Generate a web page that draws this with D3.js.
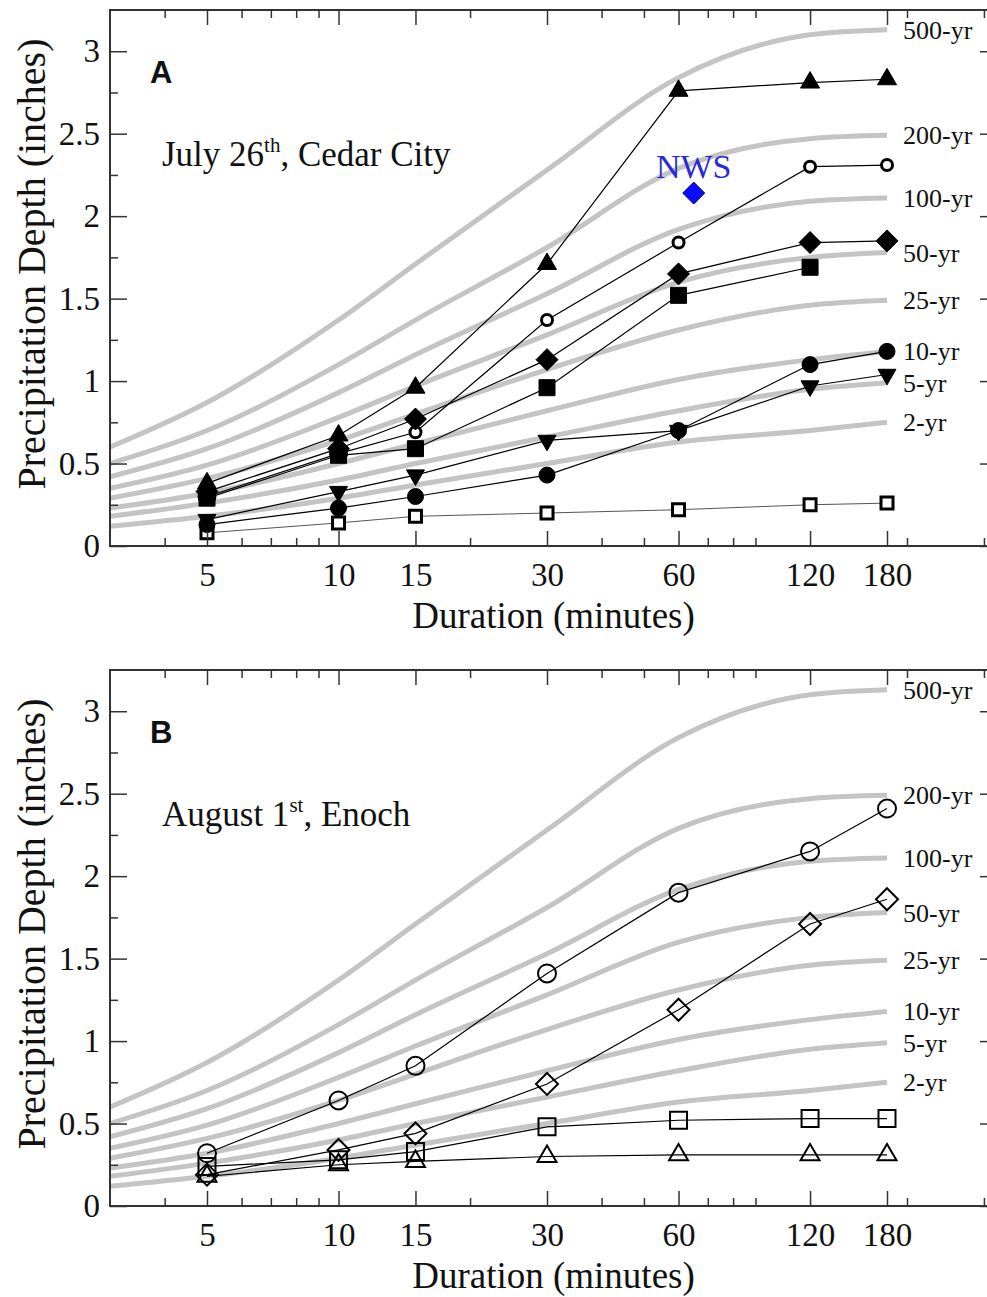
<!DOCTYPE html>
<html>
<head>
<meta charset="utf-8">
<script src="https://cdn.jsdelivr.net/npm/d3@7"></script>
<style>
  body { margin: 0; background: #fff; }
  svg { display: block; }
</style>
</head>
<body>
<div id="chart"></div>
<script>
// ---- data -------------------------------------------------------------
// storm durations (minutes) of the observed gauges
const durations = [5, 10, 15, 30, 60, 120, 180];

// frequency curves (grey), read at these durations
const curveDurations = [3, 5, 10, 15, 30, 60, 120, 180];
const returnPeriods = ['500-yr', '200-yr', '100-yr', '50-yr', '25-yr', '10-yr', '5-yr', '2-yr'];
const depth500 = [0.60, 0.87, 1.37, 1.71, 2.28, 2.84, 3.10, 3.13];
const depth200 = [0.50, 0.70, 1.10, 1.37, 1.81, 2.29, 2.47, 2.49];
const depth100 = [0.42, 0.59, 0.93, 1.16, 1.53, 1.92, 2.09, 2.11];
const depth50  = [0.35, 0.49, 0.78, 0.97, 1.28, 1.60, 1.75, 1.78];
const depth25  = [0.29, 0.41, 0.64, 0.80, 1.07, 1.31, 1.46, 1.49];
const depth10  = [0.23, 0.32, 0.50, 0.62, 0.82, 1.01, 1.13, 1.18];
const depth5   = [0.18, 0.26, 0.40, 0.50, 0.66, 0.82, 0.95, 0.99];
const depth2   = [0.12, 0.18, 0.29, 0.37, 0.50, 0.63, 0.70, 0.75];

// panel A : July 26th, Cedar City
const aTriangle    = [0.38, 0.67, 0.96, 1.71, 2.76, 2.81, 2.83];
const aRing        = [0.30, 0.56, 0.69, 1.37, 1.84, 2.30, 2.31];
const aDiamond     = [0.33, 0.59, 0.77, 1.13, 1.65, 1.84, 1.85];
const aSquare      = [0.29, 0.55, 0.59, 0.96, 1.52, 1.69];
const aTriangleDn  = [0.16, 0.33, 0.43, 0.64, 0.70, 0.97, 1.04];
const aCircle      = [0.13, 0.23, 0.30, 0.43, 0.70, 1.10, 1.18];
const aOpenSquare  = [0.08, 0.14, 0.18, 0.20, 0.22, 0.25, 0.26];
const nwsDuration = 65;
const nwsDepth = 2.14;

// panel B : August 1st, Enoch
const bCircle   = [0.32, 0.64, 0.85, 1.41, 1.90, 2.15, 2.41];
const bDiamond  = [0.19, 0.34, 0.44, 0.74, 1.19, 1.71, 1.86];
const bSquare   = [0.24, 0.28, 0.33, 0.48, 0.52, 0.53, 0.53];
const bTriangle = [0.18, 0.25, 0.27, 0.30, 0.31, 0.31, 0.31];

// axis ticks
const xMajor = [5, 10, 15, 30, 60, 120, 180];
const xMinor = [4, 6, 7, 8, 9, 20, 40, 50, 70, 80, 90, 200, 300];
const yMajor = [0, 0.5, 1, 1.5, 2, 2.5, 3];
const yMinor = [0.25, 0.75, 1.25, 1.75, 2.25, 2.75];

// ---- layout -----------------------------------------------------------
const W = 987, H = 1297;
const plotH = 536;
const serif = '"Liberation Serif", "Times New Roman", serif';

const svg = d3.select('#chart').append('svg')
  .attr('width', W).attr('height', H)
  .style('background', '#fff');

const x = d3.scaleLog().domain([5, 180]).range([207, 887]);
const left = 110, right = 997;

const curves = [depth500, depth200, depth100, depth50, depth25, depth10, depth5, depth2]
  .map((vals, i) => ({ label: returnPeriods[i], values: vals }));

function markerPath(type, s) {
  const h = s * Math.sqrt(3) / 2;
  switch (type) {
    case 'triangle':
      return `M0,${-2 * h / 3}L${s / 2},${h / 3}L${-s / 2},${h / 3}Z`;
    case 'triangleDown':
      return `M0,${2 * h / 3}L${s / 2},${-h / 3}L${-s / 2},${-h / 3}Z`;
    case 'diamond':
      return `M0,${-s}L${s},0L0,${s}L${-s},0Z`;
    case 'square':
      return `M${-s / 2},${-s / 2}h${s}v${s}h${-s}Z`;
    default: // circle, s = radius
      return `M${s},0A${s},${s} 0 1 1 ${-s},0A${s},${s} 0 1 1 ${s},0Z`;
  }
}

function drawPanel(top, cfg) {
  const bottom = top + plotH;
  const y = d3.scaleLinear().domain([0, 3.25]).range([bottom, top]);
  const g = svg.append('g');

  // frequency curves
  const curveLine = d3.line()
    .x((d, i) => x(curveDurations[i]))
    .y(d => y(d))
    .curve(d3.curveMonotoneX);

  g.selectAll('.freq').data(curves).join('path')
    .attr('class', 'freq')
    .attr('d', d => curveLine(d.values))
    .attr('fill', 'none')
    .attr('stroke', '#c4c4c4')
    .attr('stroke-width', 5);

  g.selectAll('.freqLabel').data(curves).join('text')
    .attr('class', 'freqLabel')
    .attr('x', x(180) + 16)
    .attr('y', d => y(d.values[d.values.length - 1]))
    .attr('dy', '0.35em')
    .attr('font-family', serif)
    .attr('font-size', 26)
    .attr('fill', '#111')
    .text(d => d.label);

  // observed series
  const obsLine = d3.line().x(d => x(d.t)).y(d => y(d.v));
  cfg.series.forEach(s => {
    const pts = s.values.map((v, i) => ({ t: durations[i], v }));
    g.append('path')
      .attr('d', obsLine(pts))
      .attr('fill', 'none')
      .attr('stroke', s.lineColor || '#000')
      .attr('stroke-width', s.lineWidth || 1.2);
    s.pts = pts;
  });
  cfg.series.forEach(s => {
    g.selectAll(null).data(s.pts).join('path')
      .attr('transform', d => `translate(${x(d.t)},${y(d.v)})`)
      .attr('d', d => (s.solidUpTo && d.t <= s.solidUpTo)
        ? markerPath('circle', 8) : markerPath(s.marker, s.size))
      .attr('fill', d => (s.solidUpTo && d.t <= s.solidUpTo) ? '#000' : s.fill)
      .attr('stroke', '#000')
      .attr('stroke-width', s.strokeWidth);
  });

  if (cfg.nws) {
    g.append('path')
      .attr('transform', `translate(${x(nwsDuration)},${y(nwsDepth)})`)
      .attr('d', markerPath('diamond', 11))
      .attr('fill', '#0b0bff')
      .attr('stroke', '#00007a')
      .attr('stroke-width', 1);
    g.append('text')
      .attr('x', x(nwsDuration))
      .attr('y', y(nwsDepth) - 15)
      .attr('text-anchor', 'middle')
      .attr('font-family', serif)
      .attr('font-size', 34)
      .attr('fill', '#2a2ad8')
      .text('NWS');
  }

  // axes
  const tickStyle = sel => {
    sel.select('.domain').remove();
    sel.selectAll('line').attr('stroke', '#333').attr('stroke-width', 1.5);
    sel.selectAll('text').attr('font-family', serif).attr('font-size', 33).attr('fill', '#111');
  };
  g.append('g').attr('transform', `translate(0,${bottom})`)
    .call(d3.axisBottom(x).tickValues(xMajor).tickSize(-15).tickPadding(17).tickFormat(d3.format('d')))
    .call(tickStyle);
  g.append('g').attr('transform', `translate(0,${bottom})`)
    .call(d3.axisBottom(x).tickValues(xMinor).tickSize(-8).tickFormat(''))
    .call(tickStyle);
  g.append('g').attr('transform', `translate(0,${top})`)
    .call(d3.axisTop(x).tickValues(xMajor).tickSize(-15).tickFormat(''))
    .call(tickStyle);
  g.append('g').attr('transform', `translate(0,${top})`)
    .call(d3.axisTop(x).tickValues(xMinor).tickSize(-8).tickFormat(''))
    .call(tickStyle);
  g.append('g').attr('transform', `translate(${left},0)`)
    .call(d3.axisLeft(y).tickValues(yMajor).tickSize(-17).tickPadding(10).tickFormat(d3.format('~g')))
    .call(tickStyle);
  g.append('g').attr('transform', `translate(${left},0)`)
    .call(d3.axisLeft(y).tickValues(yMinor).tickSize(-8).tickFormat(''))
    .call(tickStyle);
  g.append('g').attr('transform', `translate(${right},0)`)
    .call(d3.axisRight(y).tickValues(yMajor).tickSize(-17).tickFormat(''))
    .call(tickStyle);
  g.append('g').attr('transform', `translate(${right},0)`)
    .call(d3.axisRight(y).tickValues(yMinor).tickSize(-8).tickFormat(''))
    .call(tickStyle);

  g.append('rect')
    .attr('x', left).attr('y', top)
    .attr('width', right - left).attr('height', plotH)
    .attr('fill', 'none').attr('stroke', '#333').attr('stroke-width', 2);

  // titles
  g.append('text')
    .attr('x', (left + 997) / 2)
    .attr('y', bottom + 82)
    .attr('text-anchor', 'middle')
    .attr('font-family', serif).attr('font-size', 37).attr('fill', '#111')
    .text('Duration (minutes)');

  g.append('text')
    .attr('transform', `translate(45,${(top + bottom) / 2 - 14}) rotate(-90)`)
    .attr('text-anchor', 'middle')
    .attr('font-family', serif).attr('font-size', 40).attr('fill', '#111')
    .text('Precipitation Depth (inches)');

  g.append('text')
    .attr('x', 150).attr('y', top + 73)
    .attr('font-family', '"Liberation Sans", Arial, sans-serif')
    .attr('font-weight', 'bold').attr('font-size', 31).attr('fill', '#111')
    .text(cfg.label);

  const note = g.append('text')
    .attr('x', 162).attr('y', top + 156)
    .attr('font-family', serif).attr('font-size', 35).attr('fill', '#111');
  note.append('tspan').text(cfg.note[0]);
  note.append('tspan').attr('font-size', 21).attr('dy', -14).text(cfg.note[1]);
  note.append('tspan').attr('dy', 14).text(cfg.note[2]);
}

drawPanel(10, {
  label: 'A',
  note: ['July 26', 'th', ', Cedar City'],
  nws: true,
  series: [
    { values: aOpenSquare, marker: 'square', size: 12, fill: '#fff', strokeWidth: 3, lineColor: '#555', lineWidth: 1 },
    { values: aTriangleDn, marker: 'triangleDown', size: 18, fill: '#000', strokeWidth: 1 },
    { values: aCircle, marker: 'circle', size: 8, fill: '#000', strokeWidth: 1 },
    { values: aSquare, marker: 'square', size: 16, fill: '#000', strokeWidth: 1 },
    { values: aRing, marker: 'circle', size: 5.5, fill: '#fff', strokeWidth: 3, solidUpTo: 10 },
    { values: aDiamond, marker: 'diamond', size: 11, fill: '#000', strokeWidth: 1 },
    { values: aTriangle, marker: 'triangle', size: 19, fill: '#000', strokeWidth: 1 }
  ]
});

drawPanel(670, {
  label: 'B',
  note: ['August 1', 'st', ', Enoch'],
  nws: false,
  series: [
    { values: bTriangle, marker: 'triangle', size: 19, fill: 'none', strokeWidth: 2 },
    { values: bSquare, marker: 'square', size: 17, fill: 'none', strokeWidth: 2 },
    { values: bDiamond, marker: 'diamond', size: 11, fill: 'none', strokeWidth: 2 },
    { values: bCircle, marker: 'circle', size: 9, fill: 'none', strokeWidth: 2 }
  ]
});
</script>
</body>
</html>
